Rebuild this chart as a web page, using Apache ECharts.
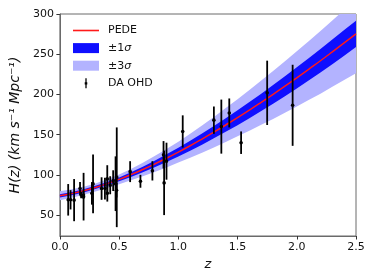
<!DOCTYPE html>
<html>
<head>
<meta charset="utf-8">
<script src="https://cdn.jsdelivr.net/npm/echarts@6/dist/echarts.min.js"></script>
<style>html,body{margin:0;padding:0;background:#fff}#c{width:374px;height:280px}</style>
</head>
<body>
<div id="c"></div>
<script>
// Model curve grid (z) and read-off values
var zGrid = [0,0.1,0.2,0.3,0.4,0.5,0.6,0.7,0.8,0.9,1.0,1.1,1.2,1.3,1.4,1.5,1.6,1.7,1.8,1.9,2.0,2.1,2.2,2.3,2.4,2.5];
var hPEDE = [74.0,76.8,80.2,84.4,89.1,94.4,100.3,106.7,113.5,120.7,128.3,136.2,144.5,153.1,162.0,171.1,180.5,190.2,200.1,210.2,220.6,231.2,241.9,252.9,264.1,275.4];
var hi1 = [76.0,78.8,82.2,86.4,91.2,96.8,103.2,110.2,117.6,125.5,133.8,142.4,151.5,160.8,170.5,180.4,190.5,201.0,211.7,222.6,233.8,245.1,256.5,268.2,280.0,291.7];
var lo1 = [72.0,74.8,78.2,82.4,87.0,92.0,97.4,103.2,109.4,115.9,122.8,130.0,137.5,145.4,153.5,161.8,170.5,179.4,188.5,197.8,207.4,217.3,227.3,237.6,248.2,259.1];
var hi3 = [79.5,82.0,85.2,89.4,94.4,100.4,107.3,115.2,123.5,132.2,141.3,151.2,161.5,172.1,183.0,194.1,205.5,217.2,229.1,241.2,253.6,266.2,278.9,291.9,305.1,318.4];
var lo3 = [68.5,71.6,75.2,79.4,83.8,88.4,93.3,98.2,103.5,109.2,115.3,121.2,127.5,134.1,141.0,148.1,155.0,162.2,169.6,177.2,185.1,193.2,200.9,209.4,218.1,226.4];

// DA OHD data
var zObs = [0.07,0.09,0.12,0.17,0.179,0.199,0.2,0.27,0.28,0.352,0.3802,0.4,0.4004,0.4247,0.4497,0.47,0.4783,0.48,0.593,0.68,0.781,0.875,0.88,0.9,1.037,1.3,1.363,1.43,1.53,1.75,1.965];
var hObs = [69,69,68.6,83,75,75,72.9,77,88.8,83,83,95,77,87.1,92.8,89,80.9,97,104,92,105,125,90,117,154,168,160,177,140,202,186.5];
var sObs = [19.6,12,26.2,8,4,5,29.6,14,36.6,14,13.5,17,10.2,11.2,12.9,34,9,62,13,8,12,17,40,23,20,17,33.6,18,14,40,50.4];

// tick labels
var xTicks = [0, 0.5, 1.0, 1.5, 2.0, 2.5];
var yTicks = [50, 100, 150, 200, 250, 300];

function pairs(xs, ys) { return xs.map(function (x, i) { return [x, ys[i]]; }); }

var FONT = 'DejaVu Sans';
var chart = echarts.init(document.getElementById('c'), null, { renderer: 'canvas' });

function bandSeries(name, hi, lo, color, z) {
  return {
    name: name, type: 'custom', clip: true, silent: true, z: z,
    encode: { x: 0, y: 1 },
    data: [[zGrid[0], hi[0]]],
    itemStyle: { color: color },
    renderItem: function (params, api) {
      var pts = [];
      for (var i = 0; i < zGrid.length; i++) pts.push(api.coord([zGrid[i], hi[i]]));
      for (var j = zGrid.length - 1; j >= 0; j--) pts.push(api.coord([zGrid[j], lo[j]]));
      return { type: 'polygon', shape: { points: pts }, style: { fill: color } };
    }
  };
}

chart.setOption({
  animation: false,
  grid: { left: 58, right: 18, top: 14, bottom: 44, show: true, borderColor: '#6a6a6a', borderWidth: 1, backgroundColor: 'transparent' },
  legend: {
    orient: 'vertical', left: 68, top: 19,
    itemWidth: 26, itemHeight: 10, itemGap: 4.6,
    textStyle: { fontFamily: FONT, fontSize: 11, color: '#111', lineHeight: 13, padding: [0, 0, 0, 4],
      rich: { i: { fontFamily: FONT, fontStyle: 'italic', fontSize: 11, color: '#111' } } },
    formatter: function (n) { return n.replace('σ', '{i|σ}'); },
    selectedMode: false,
    data: [
      { name: 'PEDE', icon: 'path://M0,0h26v1.6h-26z', itemStyle: { color: '#ff1a1a' } },
      { name: '±1σ', icon: 'rect', itemStyle: { color: '#0f0fff' } },
      { name: '±3σ', icon: 'rect', itemStyle: { color: '#b3b3ff' } },
      { name: 'DA OHD', icon: 'path://M2,0h1.8v14h-1.8zM1.1,5.6h3.6v3h-3.6z', itemStyle: { color: '#000' } }
    ]
  },
  xAxis: {
    type: 'value', min: 0, max: 2.5, interval: 0.5,
    name: 'z', nameLocation: 'middle', nameGap: 19,
    nameTextStyle: { fontFamily: FONT, fontStyle: 'italic', fontSize: 13, color: '#111' },
    axisLine: { show: true, onZero: false, lineStyle: { color: '#6a6a6a', width: 1 } },
    axisTick: { show: true, inside: false, length: 3.5, lineStyle: { color: '#333' }, customValues: xTicks },
    axisLabel: { margin: 6, fontFamily: FONT, fontSize: 11, color: '#111', customValues: xTicks,
      formatter: function (v) { return v.toFixed(1); } },
    splitLine: { show: false }
  },
  yAxis: {
    type: 'value', min: 24, max: 300,
    name: 'H(z) (km s⁻¹ Mpc⁻¹)', nameLocation: 'middle', nameGap: 37, nameRotate: 90,
    nameTextStyle: { fontFamily: FONT, fontStyle: 'italic', fontSize: 14, color: '#111' },
    axisLine: { show: true, onZero: false, lineStyle: { color: '#6a6a6a', width: 1 } },
    axisTick: { show: true, inside: false, length: 3.5, lineStyle: { color: '#333' }, customValues: yTicks },
    axisLabel: { margin: 6, fontFamily: FONT, fontSize: 11, color: '#111', customValues: yTicks },
    splitLine: { show: false }
  },
  series: [
    bandSeries('±3σ', hi3, lo3, '#b3b3ff', 1),
    bandSeries('±1σ', hi1, lo1, '#0f0fff', 2),
    { name: 'PEDE', type: 'line', symbol: 'none', smooth: true, data: pairs(zGrid, hPEDE),
      lineStyle: { color: '#ff1a1a', width: 1.5 }, itemStyle: { color: '#ff1a1a' }, silent: true, z: 3 },
    { name: 'DA OHD', type: 'custom', z: 4, silent: true,
      encode: { x: 0, y: 1 },
      data: zObs.map(function (z, i) { return [z, hObs[i], sObs[i]]; }),
      itemStyle: { color: '#000' },
      renderItem: function (params, api) {
        var z = api.value(0), h = api.value(1), s = api.value(2);
        var a = api.coord([z, h - s]), b = api.coord([z, h + s]), c = api.coord([z, h]);
        return { type: 'group', children: [
          { type: 'line', shape: { x1: a[0], y1: a[1], x2: b[0], y2: b[1] }, style: { stroke: '#000', lineWidth: 1.8 } },
          { type: 'circle', shape: { cx: c[0], cy: c[1], r: 1.8 }, style: { fill: '#000' } }
        ] };
      }
    }
  ]
});
</script>
</body>
</html>
